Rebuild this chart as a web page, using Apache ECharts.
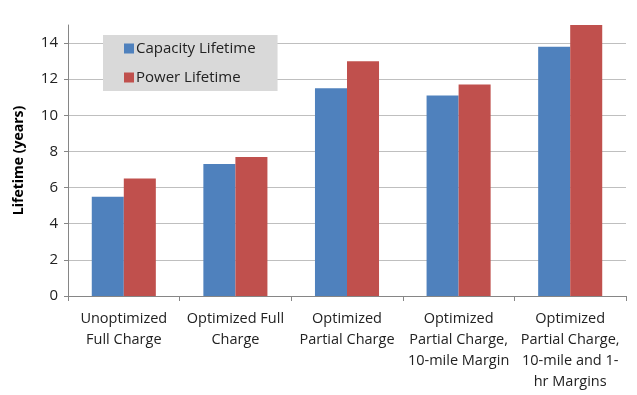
<!DOCTYPE html>
<html><head><meta charset="utf-8">
<script src="https://cdn.jsdelivr.net/npm/echarts@6/dist/echarts.min.js"></script>
<style>html,body{margin:0;padding:0;background:#fff}#c{width:637px;height:395px}</style>
</head><body><div id="c"></div>
<script>
const categories = ["Unoptimized\nFull Charge", "Optimized Full\nCharge", "Optimized\nPartial Charge", "Optimized\nPartial Charge,\n10-mile Margin", "Optimized\nPartial Charge,\n10-mile and 1-\nhr Margins"];
const capacityLifetime = [5.5, 7.3, 11.5, 11.1, 13.8];
const powerLifetime = [6.5, 7.7, 13.0, 11.7, 15.0];
const seriesNames = ["Capacity Lifetime", "Power Lifetime"];
const font = "'Open Sans', 'Liberation Sans', sans-serif";
const chart = echarts.init(document.getElementById('c'));
chart.setOption({
  animation: false,
  grid: {left: 68, right: 11, top: 25, bottom: 99, containLabel: false},
  legend: {
    data: seriesNames, orient: 'vertical', left: 103, top: 35,
    padding: [6, 22, 6, 21], itemGap: 14, itemWidth: 10, itemHeight: 10,
    backgroundColor: '#d9d9d9', icon: 'rect',
    textStyle: {fontFamily: font, fontSize: 15, lineHeight: 15, color: '#222', padding: [0,0,0,-3]}
  },
  xAxis: {
    type: 'category', data: categories,
    axisLine: {lineStyle: {color: '#868686'}},
    axisTick: {show: true, length: 5, lineStyle: {color: '#868686'}},
    axisLabel: {fontFamily: font, fontSize: 14.5, color: '#222', lineHeight: 21, margin: 12, interval: 0}
  },
  yAxis: {
    type: 'value', min: 0, max: 15, interval: 2,
    name: 'Lifetime (years)', nameLocation: 'middle', nameGap: 42,
    nameTextStyle: {fontFamily: font, fontSize: 14, fontWeight: 'bold', color: '#000'},
    axisLine: {show: true, lineStyle: {color: '#868686'}},
    axisTick: {show: true, length: 4, lineStyle: {color: '#868686'}},
    axisLabel: {fontFamily: font, fontSize: 15, color: '#222', margin: 10, showMaxLabel: false},
    splitLine: {lineStyle: {color: ['#bfbfbf','#bfbfbf','#bfbfbf','#bfbfbf','#bfbfbf','#bfbfbf','#bfbfbf','#bfbfbf','rgba(0,0,0,0)'], width: 1}}
  },
  series: [
    {name: seriesNames[0], type: 'bar', data: capacityLifetime, itemStyle: {color: '#4f81bd'}, barGap: '0%', barCategoryGap: '42.6%'},
    {name: seriesNames[1], type: 'bar', data: powerLifetime, itemStyle: {color: '#c0504d'}, barGap: '0%', barCategoryGap: '42.6%'}
  ]
});
</script></body></html>
